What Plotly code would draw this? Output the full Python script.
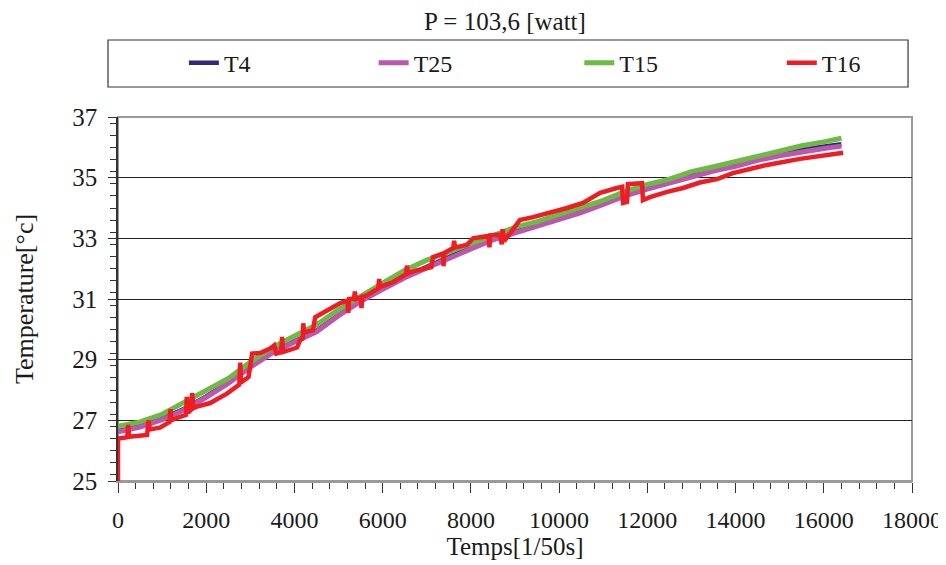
"""
Temperature rise of four thermocouples under P = 103,6 W.
Recreated with Plotly from a scanned Excel chart.
"""

import plotly.graph_objects as go

# --- data --------------------------------------------------------------------
TIME_SMOOTH = [0, 500, 1000, 1500, 2000, 2500, 3000, 3500, 4000, 4500, 5000,
               5500, 6000, 6500, 7000, 7500, 8000, 8500, 9000, 9500, 10000,
               10500, 11000, 11500, 12000, 12500, 13000, 13500, 14000, 14500,
               15000, 15500, 16000, 16400]

T4 = [26.65, 26.81, 27.05, 27.38, 27.79, 28.25, 28.78, 29.25, 29.61, 29.95,
      30.48, 30.95, 31.35, 31.73, 32.06, 32.39, 32.70, 33.00, 33.23, 33.43,
      33.67, 33.90, 34.17, 34.45, 34.68, 34.88, 35.08, 35.28, 35.44, 35.63,
      35.79, 35.93, 36.03, 36.10]

T25 = [26.62, 26.78, 27.02, 27.35, 27.76, 28.22, 28.75, 29.22, 29.58, 29.92,
       30.45, 30.92, 31.32, 31.70, 32.02, 32.35, 32.65, 32.95, 33.18, 33.38,
       33.62, 33.85, 34.12, 34.40, 34.62, 34.82, 35.02, 35.22, 35.37, 35.57,
       35.72, 35.86, 35.96, 36.04]

T15 = [26.80, 26.95, 27.20, 27.58, 28.00, 28.38, 28.92, 29.40, 29.78, 30.15,
       30.65, 31.10, 31.52, 31.95, 32.28, 32.55, 32.82, 33.10, 33.36, 33.55,
       33.78, 34.00, 34.25, 34.55, 34.78, 34.95, 35.20, 35.36, 35.54, 35.72,
       35.88, 36.05, 36.18, 36.30]

# T16 is noisy, so it keeps its own time stamps (spikes included)
TIME_T16 = [0, 0, 210, 230, 250, 660, 690, 720, 950, 1170, 1190, 1210, 1340,
            1540, 1560, 1590, 1660, 1680, 1710, 1790, 2090, 2470, 2750, 2770,
            2790, 2960, 3040, 3220, 3450, 3540, 3590, 3700, 3720, 3740, 4060,
            4130, 4190, 4200, 4220, 4420, 4470, 4740, 5030, 5200, 5220, 5240,
            5350, 5370, 5390, 5500, 5520, 5540, 5640, 5900, 5920, 5940, 6240,
            6530, 6550, 6570, 6780, 7100, 7140, 7370, 7380, 7400, 7600, 7620,
            7640, 7910, 8050, 8400, 8420, 8440, 8660, 8700, 8720, 8750, 8960,
            9110, 9410, 9790, 10180, 10540, 10930, 11310, 11430, 11450, 11540,
            11560, 11880, 11900, 12060, 12450, 12810, 13190, 13580, 13940,
            14710, 15460, 16000, 16440]

T16 = [25.00, 26.40, 26.44, 26.85, 26.46, 26.52, 27.00, 26.70, 26.76, 26.95,
       27.37, 27.00, 27.08, 27.18, 27.77, 27.25, 27.35, 27.90, 27.40, 27.45,
       27.57, 27.88, 28.18, 28.90, 28.25, 28.43, 29.20, 29.22, 29.37, 29.47,
       29.20, 29.25, 29.75, 29.25, 29.40, 29.65, 29.70, 30.20, 29.90, 29.97,
       30.40, 30.63, 30.86, 30.95, 30.54, 31.00, 31.02, 31.25, 31.00, 31.05,
       30.70, 31.08, 31.12, 31.35, 31.66, 31.40, 31.56, 31.82, 32.10, 31.85,
       31.95, 32.05, 32.38, 32.50, 32.08, 32.52, 32.68, 32.92, 32.70, 32.78,
       33.00, 33.08, 32.70, 33.10, 33.12, 32.80, 33.30, 32.90, 33.33, 33.60,
       33.70, 33.83, 34.00, 34.17, 34.50, 34.66, 34.70, 34.17, 34.20, 34.79,
       34.82, 34.26, 34.36, 34.53, 34.66, 34.84, 34.95, 35.15, 35.42, 35.62,
       35.72, 35.82]

X_TICKS = list(range(0, 18001, 2000))
Y_TICKS = [25, 27, 29, 31, 33, 35, 37]

FONT = "Liberation Serif"
INK = "#1a1a1a"

# the page body keeps its default 8px margin, so the figure is 8px smaller
W, H = 938, 557

fig = go.Figure()

# one legend per series so the four entries sit where the original has them
series = [
    ("T4", TIME_SMOOTH, T4, "#2E2A7A", 4.5, "legend", 0.083),
    ("T25", TIME_SMOOTH, T25, "#BB58AE", 5, "legend2", 0.322),
    ("T15", TIME_SMOOTH, T15, "#6DBB44", 5, "legend3", 0.581),
    ("T16", TIME_T16, T16, "#EE1D23", 4.5, "legend4", 0.836),
]
legends = {}
for name, xs, ys, color, width, leg, leg_x in series:
    fig.add_trace(go.Scatter(
        x=xs, y=ys, mode="lines", name=name, legend=leg,
        line=dict(color=color, width=width),
    ))
    legends[leg] = dict(orientation="h", x=leg_x, xanchor="left", y=1.148,
                        yanchor="middle", bgcolor="rgba(0,0,0,0)",
                        font=dict(family=FONT, size=24, color=INK))

# frame around the plot area and the legend box
fig.add_shape(type="rect", xref="paper", yref="paper", x0=0, x1=1, y0=0, y1=1,
              line=dict(color="#9a9a9a", width=2), layer="below")
fig.add_shape(type="rect", xref="paper", yref="paper",
              x0=-0.0126, x1=0.995, y0=1.0824, y1=1.2115,
              line=dict(color="#333333", width=1.2))

fig.update_layout(
    width=W, height=H,
    margin=dict(l=110, r=34, t=109, b=84, autoexpand=False),
    plot_bgcolor="white", paper_bgcolor="white",
    font=dict(family=FONT, size=21, color=INK),
    showlegend=True,
    title=dict(text="P = 103,6 [watt]", x=497 / W, xanchor="center",
               y=1 - 13 / H, yanchor="middle", xref="container",
               font=dict(family=FONT, size=25, color=INK)),
    xaxis=dict(
        range=[0, 18000], tickvals=X_TICKS, tickformat="d", ticks="outside",
        ticklen=10, tickcolor="#333", showline=True, linecolor="#9a9a9a",
        linewidth=2, showgrid=False, zeroline=False, automargin=False,
        ticklabelstandoff=6, tickfont=dict(family=FONT, size=24, color=INK),
        minor=dict(dtick=400, ticks="outside", ticklen=6, tickcolor="#333"),
        title=dict(text="Temps[1/50s]", standoff=0,
                   font=dict(family=FONT, size=25, color=INK)),
    ),
    yaxis=dict(
        range=[25, 37], tickvals=Y_TICKS, ticks="outside", ticklen=8,
        tickcolor="#333", showline=True, linecolor="#333", linewidth=1.5,
        showgrid=True, gridcolor="#222", gridwidth=1, zeroline=False,
        automargin=False, ticklabelstandoff=6,
        tickfont=dict(family=FONT, size=25, color=INK),
        minor=dict(dtick=0.4, ticks="outside", ticklen=6, tickcolor="#333",
                   showgrid=False),
        title=dict(text="Temperature[°c]", standoff=31,
                   font=dict(family=FONT, size=26, color=INK)),
    ),
    **legends,
)

fig.write_html("out.html")
